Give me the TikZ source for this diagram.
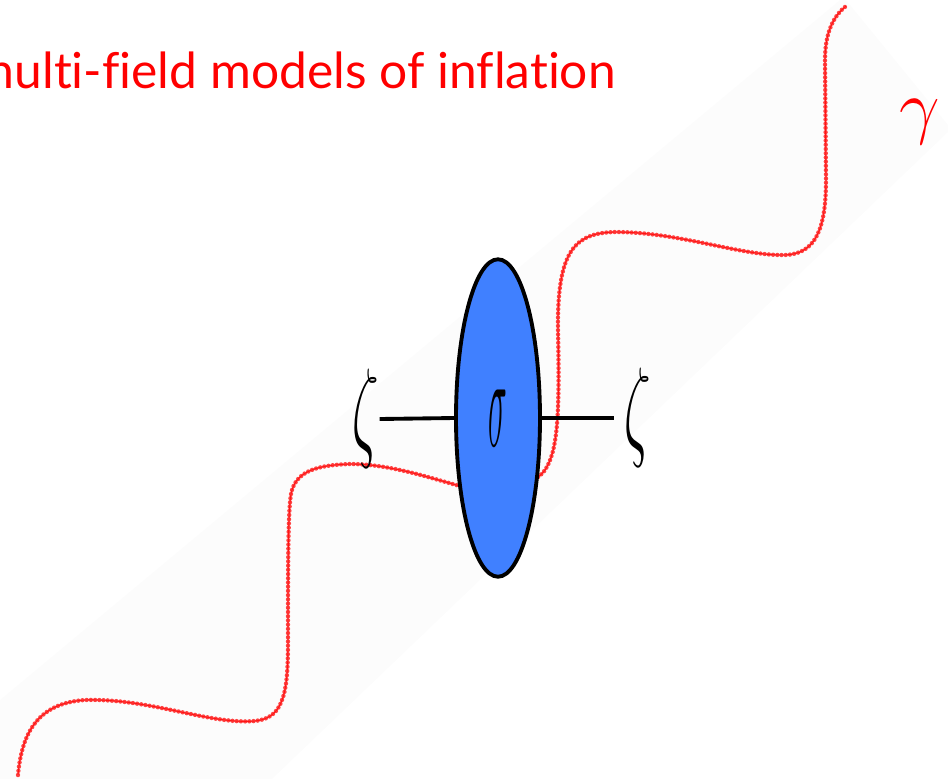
\documentclass[tikz,border=0pt]{standalone}
\usepackage{graphicx}
\usepackage{fontspec}
\newfontfamily\titlefont[Ligatures=NoCommon]{Lato}
\usetikzlibrary{shapes.geometric}
\definecolor{diskblue}{RGB}{64,128,255}
\definecolor{photonred}{RGB}{255,20,20}

\begin{document}
\begin{tikzpicture}[x=0.02cm,y=-0.02cm]
    \tikzset{
        photon/.style={
            draw=photonred,line width=0.5pt,
            postaction={draw=photonred,line width=2.5pt,line cap=round,
                        dash pattern=on 0pt off 2.4pt,opacity=0.8}
        },
        disk/.style={
            ellipse,draw,line width=2.2pt,fill=diskblue,
            minimum width=1.68cm,minimum height=6.35cm,inner sep=0pt
        },
        leg/.style={line width=2.2pt},
        field/.style={inner sep=0pt}
    }
    \useasboundingbox (0,0) rectangle (948,779);
    \clip (0,0) rectangle (948,779);

    % faint band behind the diagram
    \fill[black!1] (0,700) -- (840,0) -- (846,0) -- (948,125)
        -- (948,132) -- (272,779) -- (0,779) -- cycle;

    \node[anchor=base east,inner sep=0pt,text=red,
          font=\titlefont\fontsize{28.3}{32}\selectfont]
        (title) at (616,88) {multi-field models of inflation};

    % external photon
    \path[photon] (18,775) .. controls (22,730) and (40,703) .. (85,700)
        .. controls (150,698) and (210,725) .. (255,721)
        .. controls (285,718) and (288,690) .. (288,640)
        .. controls (288,560) and (288,500) .. (292,490)
        .. controls (298,470) and (320,465) .. (350,464)
        .. controls (390,464) and (430,478) .. (460,486)
        .. controls (500,496) and (535,485) .. (545,470)
        .. controls (557,452) and (560,420) .. (558,330)
        .. controls (557,250) and (575,233) .. (615,232)
        .. controls (680,232) and (740,256) .. (785,255)
        .. controls (815,254) and (826,230) .. (826,180)
        -- (825,60)
        .. controls (825,30) and (835,15) .. (846,6);

    \node[disk] (disk) at (498,418)
        {\raisebox{-0.2cm}{\scalebox{0.72}[3.0]{\Huge$\sigma$}}};

    \node[field] (zetaL) at (366,419) {\scalebox{1.2}[2.55]{\Huge$\zeta$}};
    \node[field] (zetaR) at (638,418) {\scalebox{1.2}[2.55]{\Huge$\zeta$}};
    \draw[leg] (zetaL.east) -- (disk.west);
    \draw[leg,shorten >=0.2cm] (disk.east) -- (zetaR.west);

    \node[field,text=red] (gamma) at (920,122) {\scalebox{1.65}{\Huge$\gamma$}};
\end{tikzpicture}
\end{document}
